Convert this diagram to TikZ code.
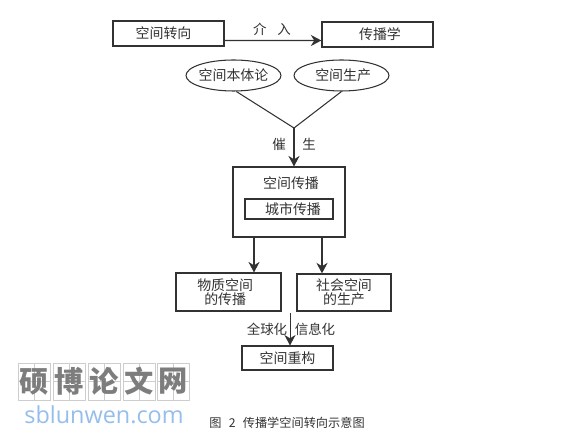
\documentclass[tikz,border=0pt]{standalone}
\usepackage{fontspec}
\usepackage{xcolor}
\usetikzlibrary{shapes.geometric,arrows.meta}
\setmainfont{Noto Sans CJK SC}
\newfontfamily\latinfont{Open Sans}
\definecolor{inkgray}{RGB}{50,50,50}
\definecolor{markgray}{RGB}{125,125,125}
\definecolor{cellgray}{RGB}{205,205,205}
\definecolor{markblue}{RGB}{150,190,235}

\begin{document}
\begin{tikzpicture}[
  line width=0.9pt,  draw=inkgray,  text=inkgray,
  box/.style={rectangle,draw=inkgray,inner sep=0pt,font=\fontsize{11.9}{10.5}\selectfont,align=center},
  oval/.style={ellipse,draw=inkgray,inner sep=0pt,minimum width=2.85cm,minimum height=0.93cm,font=\fontsize{11.9}{12}\selectfont},
  word/.style={inner sep=0pt,font=\fontsize{11.5}{12}\selectfont},
  flow/.style={draw=inkgray,-{Stealth[length=9pt,width=9.5pt]}},
  cell/.style={rectangle,draw=cellgray,line width=0.5pt,inner sep=0pt,minimum width=0.96cm,minimum height=1.11cm},
  cross/.style={draw=cellgray,line width=0.4pt}
]
  \useasboundingbox (0,0) rectangle (17.34,13.02);
  \node[box,minimum width=3.33cm,minimum height=0.75cm,line width=1.1pt] (turn) at (5.055,12.015) {\hspace*{-0.3cm}空间转向};
  \node[box,minimum width=3.33cm,minimum height=0.75cm,line width=1.1pt] (comm) at (11.325,11.985) {\hspace*{0.15cm}传播学};
  \node[oval] (onto) at (7.005,10.755) {\makebox[1.8cm][c]{空间本体论}};
  \node[oval] (prod) at (10.245,10.755) {\hspace*{0.1cm}空间生产};
  \coordinate (fork) at (8.82,9.18);
  \node[box,minimum width=3.36cm,minimum height=2.1cm] (space) at (8.67,6.96) {};
  \node[word,font=\fontsize{11.9}{12}\selectfont] (spacelabel) at (8.73,7.53) {空间传播};
  \node[box,minimum width=2.64cm,minimum height=0.6cm] (city) at (8.67,6.75) {\hspace*{0.24cm}城市传播};
  \node[box,minimum width=3.15cm,minimum height=1.14cm] (matter) at (6.855,4.26) {\hspace*{-0.2cm}物质空间\\\hspace*{-0.2cm}的传播};
  \node[box,minimum width=2.82cm,minimum height=1.11cm,line width=1.1pt] (social) at (10.32,4.245) {社会空间\\的生产};
  \coordinate (down) at (8.7,3.63);
  \node[box,minimum width=2.73cm,minimum height=0.72cm] (rebuild) at (8.625,2.28) {空间重构};
  \node[word] (enter) at (8.16,12.15) {介\hspace{0.8em}入};
  \node[word] (cui) at (8.37,8.7) {催};
  \node[word] (sheng) at (9.27,8.7) {生};
  \node[word] (global) at (8.01,3.15) {全球化};
  \node[word] (info) at (9.45,3.15) {信息化};
  \node[word,font=\fontsize{10.4}{12}\selectfont] (caption) at (8.61,0.33) {图\hspace{0.6em}2\hspace{0.6em}传播学空间转向示意图};
  \draw[flow,line width=1.1pt] ([yshift=-0.21cm]turn.east) -- ([yshift=-0.18cm]comm.west);
  \draw (onto.-80) -- (fork);
  \draw (prod.south) -- (fork);
  \draw[flow] (fork) -- (fork |- space.north);
  \draw[flow,line width=1.2pt] ([xshift=-1.05cm]space.south) -- ([xshift=-1.05cm]space.south |- matter.north);
  \draw[flow,line width=1.2pt] ([xshift=0.99cm]space.south) -- ([xshift=0.99cm]space.south |- social.north);
  \draw[flow,line width=0.7pt] (down) -- (down |- rebuild.north);
  % watermark
  \foreach \i/\x/\ch in {1/1.035/硕,2/2.085/博,3/3.135/论,4/4.185/文,5/5.205/网}{
    \node[cell] (cell\i) at (\x,1.575) {};
    \draw[cross] (cell\i.north) -- (cell\i.south);
    \draw[cross] (cell\i.west) -- (cell\i.east);
    \node[inner sep=0pt,text=markgray,font=\bfseries\fontsize{25}{26}\selectfont] (mark\i) at (\x,1.575) {\ch};
  }
  \node[inner sep=0pt,text=markblue,font=\latinfont\fontsize{20}{22}\selectfont] (site) at (3.12,0.57) {sblunwen.com};
\end{tikzpicture}
\end{document}
